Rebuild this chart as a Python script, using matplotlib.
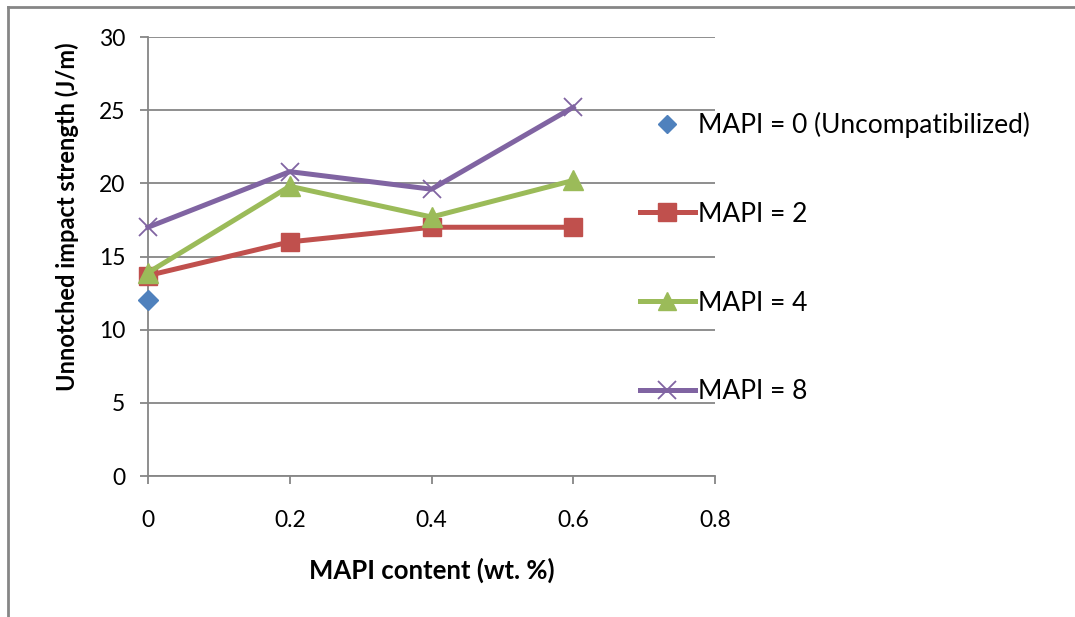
import matplotlib.pyplot as plt
from matplotlib.lines import Line2D

plt.rcParams['font.family'] = ['Lato', 'DejaVu Sans']

# MAPI content (wt. %)
content = [0, 0.2, 0.4, 0.6]

# unnotched impact strength (J/m)
mapi_0 = [12.0]
mapi_2 = [13.7, 16.0, 17.0, 17.0]
mapi_4 = [13.9, 19.8, 17.7, 20.2]
mapi_8 = [17.0, 20.8, 19.6, 25.2]

labels = ['MAPI = 0 (Uncompatibilized)', 'MAPI = 2', 'MAPI = 4', 'MAPI = 8']
y_ticks = [0, 5, 10, 15, 20, 25, 30]
x_ticks = [0, 0.2, 0.4, 0.6, 0.8]

BLUE = '#4F81BD'
RED = '#C0504D'
GREEN = '#9BBB59'
PURPLE = '#8064A2'
GREY = '#868686'


def main():
    fig = plt.figure(figsize=(10.75, 6.17), dpi=100)
    ax = fig.add_axes([0.1377, 0.2285, 0.5274, 0.7115])

    ax.plot(content[:1], mapi_0, ls='none', marker='D', ms=10, color=BLUE,
            zorder=3, clip_on=False)
    ax.plot(content, mapi_2, color=RED, lw=3.6, marker='s', ms=13.5, zorder=3,
            clip_on=False)
    ax.plot(content, mapi_4, color=GREEN, lw=3.6, marker='^', ms=14, zorder=3,
            clip_on=False)
    ax.plot(content, mapi_8, color=PURPLE, lw=3.6, marker='x', ms=13, mew=1.3,
            zorder=3, clip_on=False)

    ax.set_xlim(0, 0.8)
    ax.set_ylim(0, 30)
    ax.set_xticks(x_ticks)
    ax.set_xticklabels(['0', '0.2', '0.4', '0.6', '0.8'])
    ax.set_yticks(y_ticks)
    ax.yaxis.grid(True, color=GREY, lw=1.3)
    ax.set_axisbelow(True)

    for side in ['top', 'right']:
        ax.spines[side].set_visible(False)
    for side in ['left', 'bottom']:
        ax.spines[side].set_color(GREY)
        ax.spines[side].set_linewidth(1.3)
    ax.tick_params(axis='both', direction='out', color=GREY, width=1.3,
                   length=5.5, labelsize=16.5)
    ax.tick_params(axis='x', pad=19)
    ax.tick_params(axis='y', pad=11)

    ax.set_xlabel('MAPI content (wt. %)', fontsize=18.5, fontweight='bold', labelpad=19)
    ax.set_ylabel('Unnotched impact strength (J/m)', fontsize=17, fontweight='bold')
    ax.yaxis.set_label_coords(-0.122, 0.59)

    handles = [
        Line2D([], [], ls='none', marker='D', ms=9, color=BLUE),
        Line2D([], [], color=RED, lw=3.6, marker='s', ms=12.5),
        Line2D([], [], color=GREEN, lw=3.6, marker='^', ms=12.5),
        Line2D([], [], color=PURPLE, lw=3.6, marker='x', ms=12.5, mew=1.3),
    ]
    fig.legend(handles, labels, loc='upper left', bbox_to_anchor=(0.595, 0.819),
               frameon=False, fontsize=19, handlelength=2.1, handletextpad=0.12,
               labelspacing=2.42, borderaxespad=0, borderpad=0)

    # chart frame: top and left edges
    fig.add_artist(Line2D([0.0075, 1.0], [0.989, 0.989], color=GREY, lw=2,
                          transform=fig.transFigure))
    fig.add_artist(Line2D([0.0075, 0.0075], [0.0, 0.989], color=GREY, lw=2,
                          transform=fig.transFigure))

    fig.savefig('out.png', dpi=100)


if __name__ == '__main__':
    main()
